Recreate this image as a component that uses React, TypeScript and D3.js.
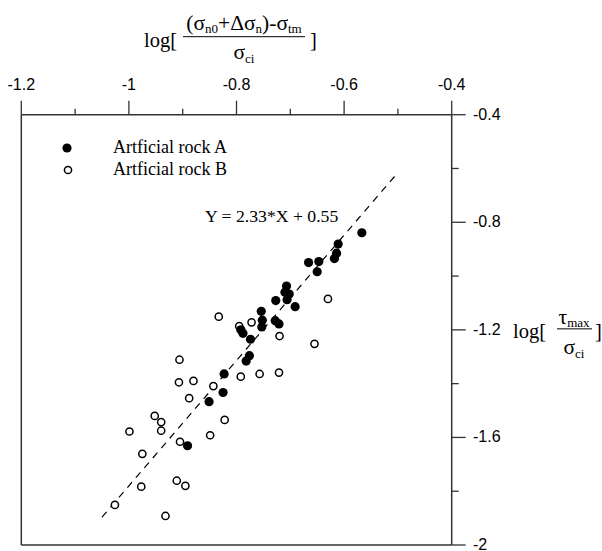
import React from 'react';
import * as d3 from 'd3';

const xTicks = [-1.2, -1, -0.8, -0.6, -0.4];
const xMinorTicks = [-1.1, -0.9, -0.7, -0.5];
const yTicks = [-0.4, -0.8, -1.2, -1.6, -2];
const yMinorTicks = [-0.6, -1.0, -1.4, -1.8];

// Artificial rock A (filled)
const rockAX = [-0.567, -0.611, -0.614, -0.618, -0.666, -0.647, -0.65, -0.707, -0.71, -0.702, -0.706, -0.727, -0.691, -0.754, -0.752, -0.753, -0.728, -0.721, -0.792, -0.788, -0.774, -0.776, -0.782, -0.823, -0.825, -0.851, -0.891];
const rockAY = [-0.839, -0.881, -0.915, -0.935, -0.95, -0.946, -0.984, -1.037, -1.06, -1.067, -1.088, -1.091, -1.114, -1.131, -1.164, -1.189, -1.166, -1.178, -1.2, -1.213, -1.235, -1.296, -1.316, -1.364, -1.433, -1.467, -1.631];

// Artificial rock B (open)
const rockBX = [-0.63, -0.772, -0.833, -0.795, -0.72, -0.655, -0.906, -0.792, -0.757, -0.721, -0.907, -0.88, -0.843, -0.888, -0.822, -0.849, -0.952, -0.94, -0.94, -0.999, -0.905, -0.975, -0.977, -0.911, -0.895, -1.026, -0.932];
const rockBY = [-1.085, -1.172, -1.151, -1.186, -1.223, -1.252, -1.311, -1.374, -1.364, -1.359, -1.395, -1.39, -1.409, -1.454, -1.535, -1.592, -1.52, -1.543, -1.575, -1.578, -1.616, -1.661, -1.783, -1.761, -1.78, -1.851, -1.892];

const fitSlope = 2.33;
const fitIntercept = 0.55;
const fitXRange = [-1.05, -0.502];
const legendLabels = ['Artficial rock A', 'Artficial rock B'];
const equationText = 'Y = 2.33*X + 0.55';

const W = 602;
const H = 551;
const L = 21.3, R = 451.7, T = 114.7, B = 545;

export default function App() {
  const x = d3.scaleLinear().domain([-1.2, -0.4]).range([L, R]);
  const y = d3.scaleLinear().domain([-2, -0.4]).range([B, T]);
  const axisColor = '#333';
  const sans = '"Liberation Sans", Arial, sans-serif';
  const serif = '"Liberation Serif", "Times New Roman", serif';

  const fitLine = d3.line<number>()
    .x((d) => x(d))
    .y((d) => y(fitSlope * d + fitIntercept));

  const ptsA = rockAX.map((v, i) => [v, rockAY[i]]);
  const ptsB = rockBX.map((v, i) => [v, rockBY[i]]);

  const yMid = y(-1.2);

  return (
    <svg width={W} height={H} style={{ position: 'absolute', left: 0, top: 0, background: '#fff' }}>
      <rect x={0} y={0} width={W} height={H} fill="#fff" />
      {/* frame */}
      <line x1={L} x2={L} y1={T} y2={B} stroke={axisColor} strokeWidth={1.5} />
      <line x1={L} x2={R} y1={B} y2={B} stroke={axisColor} strokeWidth={1.5} />
      <line x1={L} x2={R} y1={T} y2={T} stroke={axisColor} strokeWidth={1.5} />
      <line x1={R} x2={R} y1={T} y2={B} stroke={axisColor} strokeWidth={1.5} />

      {/* top ticks */}
      {xTicks.map((t) => (
        <g key={'xt' + t}>
          <line x1={x(t)} x2={x(t)} y1={T} y2={T - 14} stroke={axisColor} strokeWidth={1.3} />
          <text x={x(t)} y={90} textAnchor="middle" fontFamily={sans} fontSize={16} fill="#000">{String(t)}</text>
        </g>
      ))}
      {xMinorTicks.map((t) => (
        <line key={'xm' + t} x1={x(t)} x2={x(t)} y1={T} y2={T - 6} stroke={axisColor} strokeWidth={1.3} />
      ))}

      {/* right ticks */}
      {yTicks.map((t) => (
        <g key={'yt' + t}>
          <line x1={R} x2={R + 14} y1={y(t)} y2={y(t)} stroke={axisColor} strokeWidth={1.3} />
          <text x={473} y={y(t)} dy="0.3em" fontFamily={sans} fontSize={16} fill="#000">{String(t)}</text>
        </g>
      ))}
      {yMinorTicks.map((t) => (
        <line key={'ym' + t} x1={R} x2={R + 7} y1={y(t)} y2={y(t)} stroke={axisColor} strokeWidth={1.3} />
      ))}

      {/* fit line */}
      <path d={fitLine(fitXRange) || ''} fill="none" stroke="#000" strokeWidth={1.2} strokeDasharray="7,6" />

      {/* points */}
      {ptsB.map((p, i) => (
        <circle key={'b' + i} cx={x(p[0])} cy={y(p[1])} r={3.6} fill="#fff" stroke="#000" strokeWidth={1.5} />
      ))}
      {ptsA.map((p, i) => (
        <circle key={'a' + i} cx={x(p[0])} cy={y(p[1])} r={4.6} fill="#000" />
      ))}

      {/* legend */}
      <circle cx={67} cy={148} r={4.6} fill="#000" />
      <circle cx={68} cy={170} r={3.6} fill="#fff" stroke="#000" strokeWidth={1.5} />
      <text x={113} y={153} fontFamily={serif} fontSize={18} fill="#000">{legendLabels[0]}</text>
      <text x={113} y={175} fontFamily={serif} fontSize={18} fill="#000">{legendLabels[1]}</text>

      {/* equation */}
      <text x={205} y={222} fontFamily={serif} fontSize={17.7} fill="#000">{equationText}</text>

      {/* top title */}
      <g fontFamily={serif} fill="#000">
        <text x={144} y={47} fontSize={20.5}>log[</text>
        <text x={244} y={30} fontSize={21.5} textAnchor="middle">
          (σ<tspan fontSize={13} dy={3}>n0</tspan>
          <tspan dy={-3}>+Δσ</tspan>
          <tspan fontSize={13} dy={3}>n</tspan>
          <tspan dy={-3}>)-σ</tspan>
          <tspan fontSize={13} dy={3}>tm</tspan>
        </text>
        <line x1={183} x2={305} y1={36.7} y2={36.7} stroke="#000" strokeWidth={1} />
        <text x={244} y={58.5} fontSize={21.5} textAnchor="middle">
          σ<tspan fontSize={13} dy={4}>ci</tspan>
        </text>
        <text x={310} y={47} fontSize={20.5}>]</text>
      </g>

      {/* right title */}
      <g fontFamily={serif} fill="#000">
        <text x={513} y={yMid + 8} fontSize={20.5}>log[</text>
        <text x={574} y={yMid - 6} fontSize={21.5} textAnchor="middle">
          τ<tspan fontSize={13} dy={3}>max</tspan>
        </text>
        <line x1={557} x2={592} y1={yMid - 1} y2={yMid - 1} stroke="#000" strokeWidth={1} />
        <text x={574} y={yMid + 24} fontSize={21.5} textAnchor="middle">
          σ<tspan fontSize={13} dy={4}>ci</tspan>
        </text>
        <text x={595} y={yMid + 8} fontSize={20.5}>]</text>
      </g>
    </svg>
  );
}
